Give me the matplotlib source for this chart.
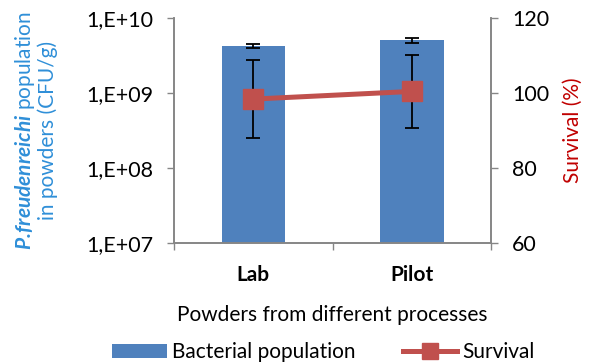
import numpy as np
import matplotlib
matplotlib.use("Agg")
import matplotlib.pyplot as plt
from matplotlib.patches import Patch
from matplotlib.lines import Line2D

plt.rcParams["font.family"] = ["Lato", "DejaVu Sans"]
plt.rcParams["mathtext.fontset"] = "custom"
plt.rcParams["mathtext.rm"] = "Lato"
plt.rcParams["mathtext.bfit"] = "Lato:italic:bold"

# powders and their measurements
processes = ["Lab", "Pilot"]
population = [4.27e9, 5.05e9]          # CFU/g
population_err = [0.22e9, 0.45e9]
survival = [98.4, 100.45]             # %
survival_err = [10.5, 9.7]

left_ticks = [1e7, 1e8, 1e9, 1e10]
left_ticklabels = ["1,E+07", "1,E+08", "1,E+09", "1,E+10"]
right_ticks = [60, 80, 100, 120]

bar_color = "#4F81BD"
line_color = "#C0504D"
blue_text = "#2F8FD8"
red_text = "#C00000"
spine_grey = "#868686"
fs = 15

fig = plt.figure(figsize=(5.94, 3.63), dpi=100)
ax = fig.add_axes([0.293, 0.3306, 0.534, 0.6194])
ax2 = ax.twinx()

x = np.arange(len(processes))
ax.bar(x, population, width=0.4, color=bar_color, zorder=2)
ax.errorbar(x, population, yerr=population_err, fmt="none", ecolor="black",
            elinewidth=1.3, capsize=5, capthick=1.3, zorder=3)
ax.set_yscale("log")
ax.set_ylim(1e7, 1e10)
ax.set_xlim(-0.5, 1.5)
ax.set_yticks(left_ticks)
ax.set_yticklabels(left_ticklabels)
ax.yaxis.set_minor_locator(matplotlib.ticker.NullLocator())

ax.set_xticks(x)
ax.set_xticklabels(processes, fontsize=fs, fontweight="bold")
ax.set_xticks([-0.5, 0.5, 1.5], minor=True)
ax.tick_params(axis="x", which="major", length=0, pad=16)
ax.tick_params(axis="x", which="minor", length=5, color=spine_grey, width=1)
ax.tick_params(axis="y", labelsize=15.5, length=5, color=spine_grey, width=1, pad=10)
ax.set_xlabel("Powders from different processes", fontsize=fs, labelpad=14)
ax.set_ylabel(r"$\mathbfit{P.\!freudenreichi}$ population" + "\n" + "in powders (CFU/g)",
              fontsize=fs, color=blue_text, labelpad=20, linespacing=1.05)

ax2.errorbar(x, survival, yerr=survival_err, fmt="none", ecolor="black",
             elinewidth=1.3, capsize=5, capthick=1.3, zorder=3)
ax2.plot(x, survival, color=line_color, linewidth=3.6, marker="s",
         markersize=14.5, zorder=4)
ax2.set_ylim(60, 120)
ax2.set_yticks(right_ticks)
ax2.tick_params(axis="y", labelsize=15.5, length=5, color=spine_grey, width=1, pad=10)
ax2.set_ylabel("Survival (%)", fontsize=fs, color=red_text, labelpad=10)

for a in (ax, ax2):
    a.spines["top"].set_visible(False)
    for s in ("left", "right", "bottom"):
        a.spines[s].set_color(spine_grey)
        a.spines[s].set_linewidth(1.2)

handles = [Patch(facecolor=bar_color, edgecolor="none"),
           Line2D([], [], color=line_color, linewidth=3.6, marker="s", markersize=12)]
fig.legend(handles, ["Bacterial population", "Survival"], loc="lower center",
           bbox_to_anchor=(0.545, -0.05), ncol=2, frameon=False, fontsize=fs,
           handlelength=2.6, handleheight=0.7, handletextpad=0.25, columnspacing=2.3)

fig.savefig("out.png", dpi=100)
